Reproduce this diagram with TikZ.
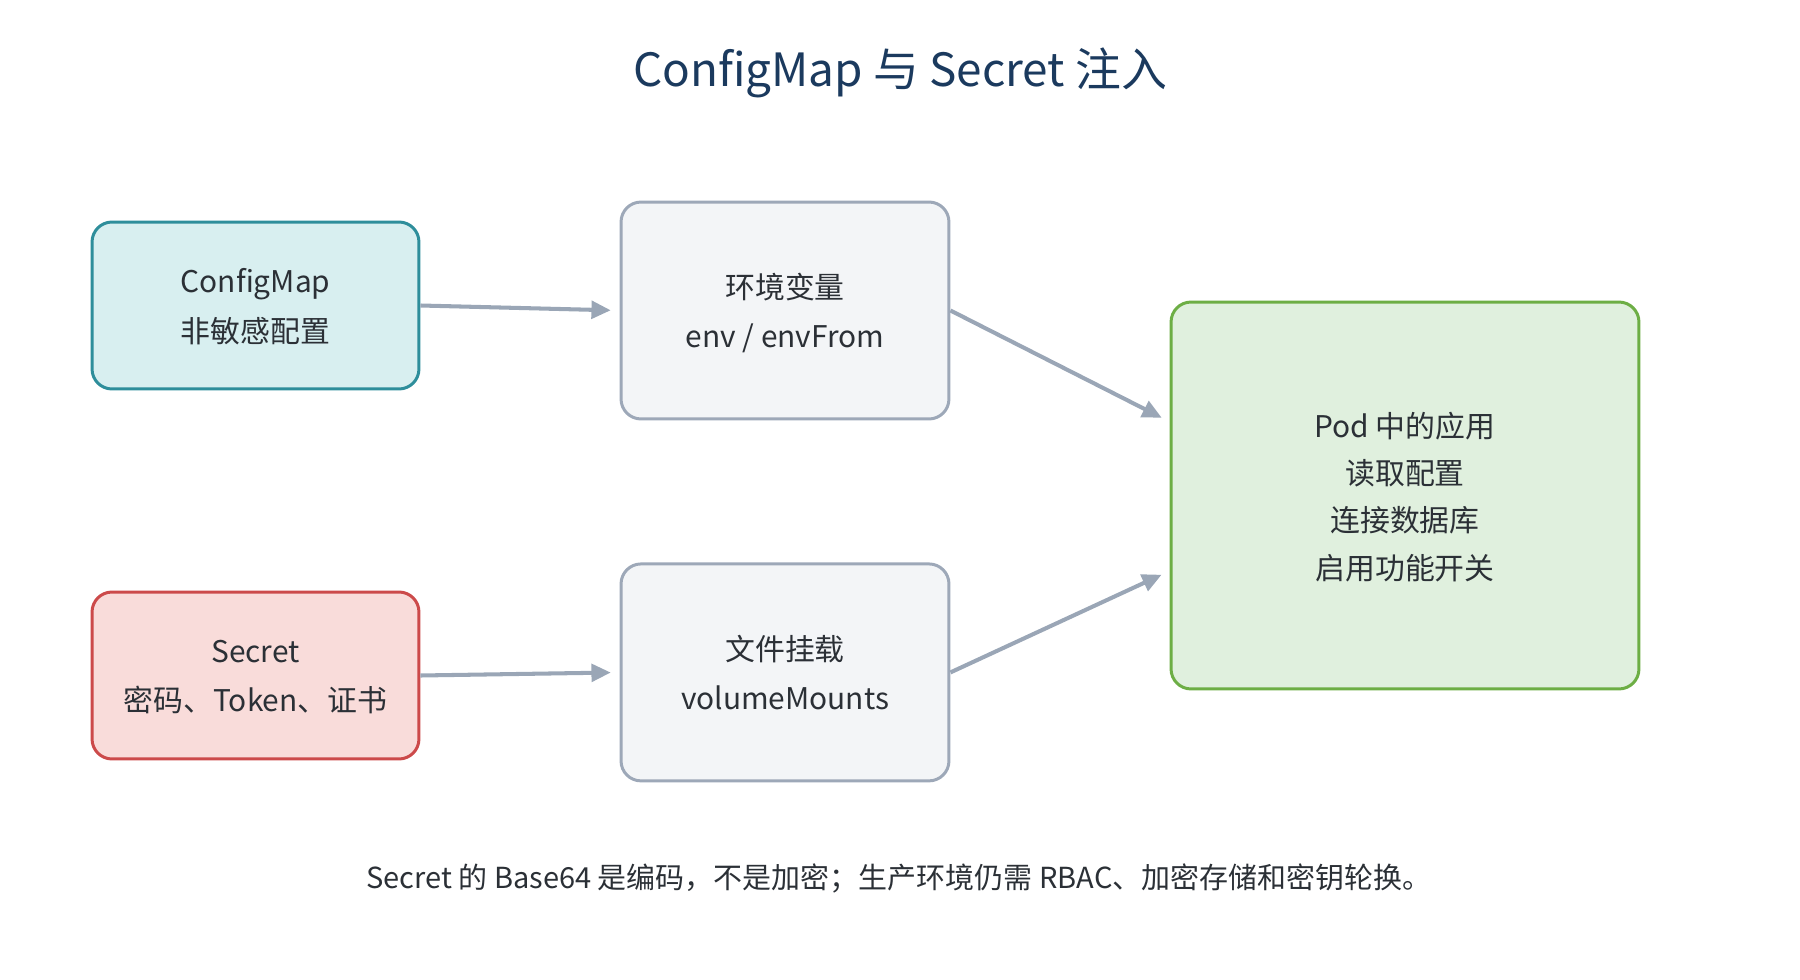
\documentclass[tikz,border=0pt]{standalone}
\usepackage{fontspec}
\setmainfont{Noto Sans CJK SC}
\usepackage{tikz}
\usetikzlibrary{arrows.meta, positioning}
\definecolor{titleblue}{HTML}{1B3A5E}
\definecolor{inktext}{HTML}{2B3036}
\definecolor{cfgline}{HTML}{2E8E9B}
\definecolor{cfgfill}{HTML}{D8EFF0}
\definecolor{secline}{HTML}{CC4A4A}
\definecolor{secfill}{HTML}{F9DCDA}
\definecolor{midline}{HTML}{9DA8B8}
\definecolor{midfill}{HTML}{F3F5F7}
\definecolor{podline}{HTML}{6DAE45}
\definecolor{podfill}{HTML}{E0F0DE}
\definecolor{arrowgray}{HTML}{9AA6B6}

\begin{document}
\begin{tikzpicture}[
  x=0.02cm, y=-0.02cm,
  node distance=2.84cm,
  box/.style={rectangle, rounded corners=0.4cm, line width=1.7pt,
              align=center, inner sep=0pt, text=inktext,
              font=\fontsize{17}{28}\selectfont, text depth=-7pt},
  cfgbox/.style={box, draw=cfgline, fill=cfgfill,
                 minimum width=6.54cm, minimum height=3.34cm},
  secbox/.style={box, draw=secline, fill=secfill,
                 minimum width=6.54cm, minimum height=3.34cm},
  midbox/.style={box, draw=midline, fill=midfill,
                 minimum width=6.56cm, minimum height=4.34cm},
  podbox/.style={box, draw=podline, fill=podfill,
                 minimum width=9.36cm, minimum height=7.74cm,
                 font=\fontsize{17}{27}\selectfont},
  arr/.style={-{Triangle[length=11pt, width=10pt]}, line width=2.3pt,
              color=arrowgray, shorten >=5pt},
]
  \useasboundingbox (0,0) rectangle (1800,980);

  \node[text=titleblue, font=\fontsize{26.1}{30}\selectfont] (title) at (900,73)
    {ConfigMap 与 Secret 注入};

  \node[cfgbox] (cfg) at (255.5,305.5) {ConfigMap\\非敏感配置};
  \node[secbox] (sec) at (255.5,675.5) {Secret\\密码、Token、证书};
  \node[midbox] (env) at (785,310.5) {环境变量\\env / envFrom};
  \node[midbox, below=of env] (vol) {文件挂载\\volumeMounts};
  \node[podbox] (pod) at (1405,495.5) {Pod 中的应用\\读取配置\\连接数据库\\启用功能开关};

  \node[text=inktext, font=\fontsize{16.5}{20}\selectfont] (note) at (899,879)
    {Secret 的 Base64 是编码，不是加密；生产环境仍需 RBAC、加密存储和密钥轮换。};

  \draw[arr] (cfg.east) -- (env.west);
  \draw[arr] (sec.east) -- (vol.west);
  \draw[arr] (env.east) -- ([yshift=42pt]pod.west);
  \draw[arr] (vol.east) -- ([yshift=-43pt]pod.west);
\end{tikzpicture}
\end{document}
